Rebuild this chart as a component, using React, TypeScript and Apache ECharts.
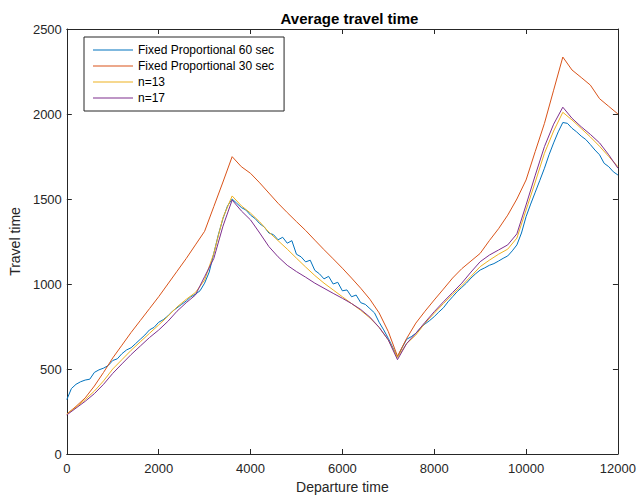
import React, { useEffect, useRef } from "react";
import * as echarts from "echarts";

// Departure times (s) for the 200 s sampled series
const departureTimes: number[] = [];
for (let t = 0; t <= 12000; t += 200) departureTimes.push(t);
// Departure times (s) for the finer sampled 60 sec series
const departureTimesFine: number[] = [];
for (let t = 0; t <= 12000; t += 100) departureTimesFine.push(t);

const seriesNames = [
  "Fixed Proportional 60 sec",
  "Fixed Proportional 30 sec",
  "n=13",
  "n=17",
];

const fixed60 = [
  320, 385, 410, 425, 435, 440, 480, 495, 505, 520,
  550, 560, 590, 612, 625, 650, 675, 700, 730, 745,
  775, 790, 812, 840, 860, 880, 900, 925, 940, 960,
  1005, 1070, 1180, 1290, 1385, 1460, 1500, 1475, 1450, 1435,
  1405, 1385, 1355, 1335, 1300, 1290, 1260, 1275, 1240, 1255,
  1175, 1160, 1130, 1140, 1080, 1060, 1030, 1045, 1000, 1010,
  960, 965, 925, 935, 890, 880, 855, 830, 775, 730,
  680, 625, 570, 625, 675, 690, 710, 740, 765, 785,
  808, 835, 860, 895, 925, 955, 980, 1005, 1035, 1060,
  1082, 1095, 1110, 1120, 1135, 1151, 1165, 1195, 1230, 1300,
  1396, 1470, 1540, 1610, 1681, 1760, 1830, 1895, 1950, 1945,
  1916, 1895, 1870, 1850, 1820, 1788, 1760, 1710, 1690, 1660,
  1641,
];

const fixed30 = [
  235, 280, 330, 400, 480, 565, 640, 715, 785, 855,
  925, 1000, 1075, 1150, 1230, 1310, 1455, 1600, 1749, 1690,
  1651, 1595, 1535, 1475, 1420, 1367, 1315, 1258, 1202, 1148,
  1093, 1035, 975, 910, 830, 720, 575, 680, 770, 840,
  906, 970, 1035, 1090, 1135, 1180, 1255, 1325, 1405, 1500,
  1612, 1780, 1945, 2140, 2335, 2259, 2215, 2170, 2090, 2045,
  2000,
];

const n13 = [
  235, 275, 320, 370, 430, 500, 555, 610, 660, 710,
  759, 810, 865, 910, 950, 1023, 1180, 1390, 1518, 1460,
  1417, 1365, 1305, 1255, 1205, 1152, 1100, 1050, 1005, 965,
  925, 885, 845, 800, 745, 671, 568, 650, 700, 770,
  828, 885, 940, 990, 1045, 1102, 1140, 1175, 1205, 1270,
  1435, 1600, 1769, 1900, 2010, 1965, 1915, 1865, 1810, 1750,
  1690,
];

const n17 = [
  230, 270, 310, 355, 410, 474, 530, 585, 635, 685,
  729, 780, 840, 890, 935, 1043, 1150, 1340, 1494, 1430,
  1377, 1300, 1220, 1160, 1110, 1073, 1040, 1005, 975, 945,
  916, 885, 850, 805, 745, 671, 555, 650, 710, 775,
  837, 895, 950, 1005, 1070, 1131, 1170, 1200, 1230, 1295,
  1465, 1640, 1808, 1940, 2040, 1975, 1925, 1880, 1830, 1760,
  1681,
];

const seriesValues = [fixed60, fixed30, n13, n17];
const seriesTimes = [departureTimesFine, departureTimes, departureTimes, departureTimes];
const seriesColors = ["#0072BD", "#D95319", "#EDB120", "#7E2F8E"];

const FONT = "'Liberation Sans', Arial, Helvetica, sans-serif";
const AXIS = "#262626";

export default function App() {
  const ref = useRef<HTMLDivElement>(null);

  useEffect(() => {
    if (!ref.current) return;
    const chart = echarts.init(ref.current, undefined, { renderer: "svg" });

    const axisCommon = {
      axisLine: { show: true, onZero: false, lineStyle: { color: AXIS, width: 1 } },
      axisTick: { show: true, inside: true, length: 5, lineStyle: { color: AXIS } },
      splitLine: { show: false },
    };
    const plain = (v: number) => String(v);

    chart.setOption({
      animation: false,
      backgroundColor: "#ffffff",
      textStyle: { fontFamily: FONT },
      title: {
        text: "Average travel time",
        left: 344.5,
        top: 6,
        textAlign: "center",
        textStyle: { fontFamily: FONT, fontSize: 15, fontWeight: "bold", color: "#000" },
      },
      grid: { left: 66, right: 16, top: 29, bottom: 45, containLabel: false },
      legend: {
        orient: "vertical",
        left: 84,
        top: 37,
        data: seriesNames,
        icon: "rect",
        itemWidth: 40,
        itemHeight: 1,
        itemGap: 4,
        padding: [7, 10, 7, 9],
        borderColor: AXIS,
        borderWidth: 1,
        borderRadius: 0,
        backgroundColor: "#ffffff",
        textStyle: { fontFamily: FONT, fontSize: 12, color: "#000", lineHeight: 12 },
      },
      xAxis: [
        {
          type: "value",
          min: 0,
          max: 12000,
          interval: 2000,
          position: "bottom",
          name: "Departure time",
          nameLocation: "middle",
          nameGap: 26,
          nameTextStyle: { fontFamily: FONT, fontSize: 14, color: AXIS },
          axisLabel: { margin: 8, fontSize: 13, color: AXIS, fontFamily: FONT, formatter: plain },
          ...axisCommon,
        },
        {
          type: "value",
          min: 0,
          max: 12000,
          interval: 2000,
          position: "top",
          axisLabel: { show: false },
          ...axisCommon,
        },
      ],
      yAxis: [
        {
          type: "value",
          min: 0,
          max: 2500,
          interval: 500,
          position: "left",
          name: "Travel time",
          nameLocation: "middle",
          nameGap: 40,
          nameTextStyle: { fontFamily: FONT, fontSize: 14, color: AXIS },
          axisLabel: { margin: 5, fontSize: 13, color: AXIS, fontFamily: FONT, formatter: plain },
          ...axisCommon,
        },
        {
          type: "value",
          min: 0,
          max: 2500,
          interval: 500,
          position: "right",
          axisLabel: { show: false },
          ...axisCommon,
        },
      ],
      series: seriesNames.map((name, i) => ({
        name,
        type: "line",
        xAxisIndex: 0,
        yAxisIndex: 0,
        symbol: "none",
        color: seriesColors[i],
        lineStyle: { width: 1, color: seriesColors[i] },
        data: seriesTimes[i].map((t, k) => [t, seriesValues[i][k]]),
      })),
    });

    return () => chart.dispose();
  }, []);

  return (
    <div
      ref={ref}
      style={{ position: "fixed", left: 0, top: 0, width: 639, height: 499, background: "#fff" }}
    />
  );
}
